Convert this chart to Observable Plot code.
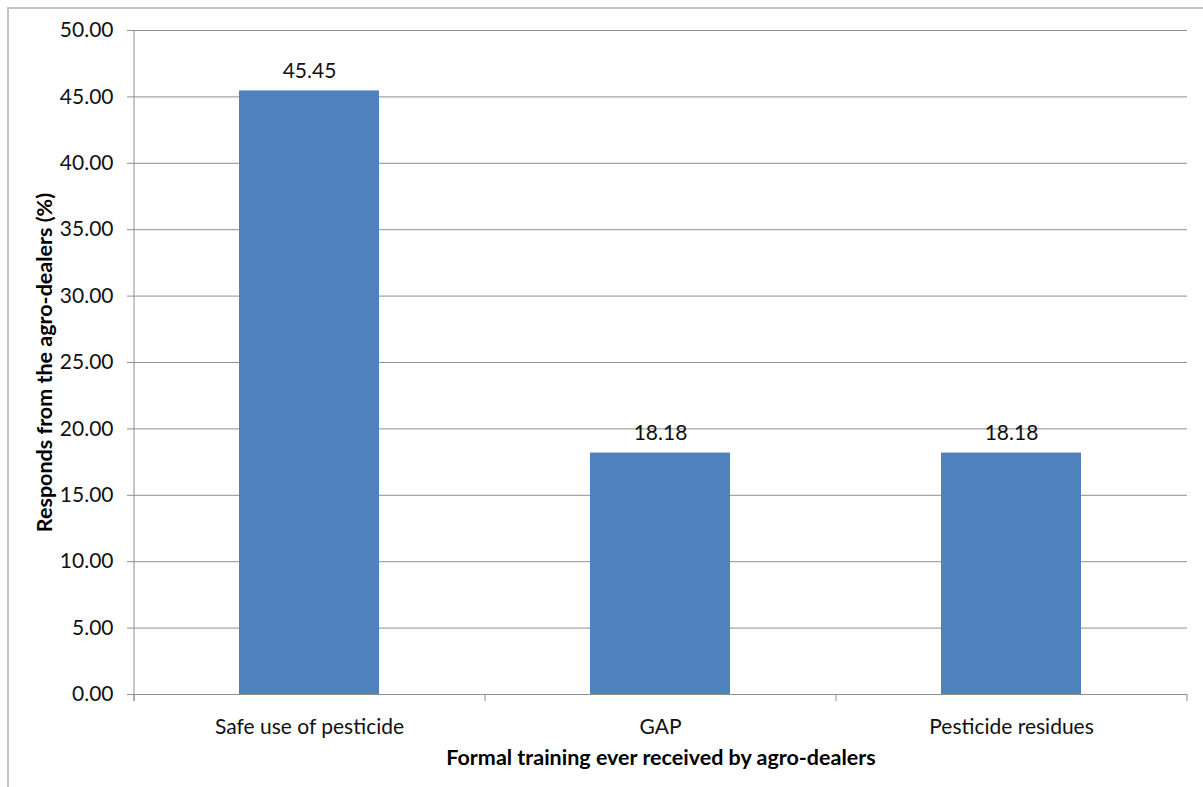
<!DOCTYPE html>
<html>
<head>
<meta charset="utf-8">
<script src="https://cdn.jsdelivr.net/npm/d3@7"></script>
<script src="https://cdn.jsdelivr.net/npm/@observablehq/plot@0.6"></script>
<style>
  html, body { margin: 0; padding: 0; background: #fff; overflow: hidden; }
  #wrap { position: relative; width: 1203px; height: 787px; }
  #frame { position: absolute; left: 7px; top: 7px; width: 1300px; height: 900px;
           border: 2px solid #c4c4c4; box-sizing: border-box; pointer-events: none; }
  #chart { position: absolute; left: 0; top: 0; }
</style>
</head>
<body>
<div id="wrap"><div id="chart"></div><div id="frame"></div></div>
<script>
// Formal training received by agro-dealers, share of responses (%)
const categories = ["Safe use of pesticide", "GAP", "Pesticide residues"];
const values = [45.45, 18.18, 18.18];
const yTicks = [0, 5, 10, 15, 20, 25, 30, 35, 40, 45, 50];
const xTitle = "Formal training ever received by agro-dealers";
const yTitle = "Responds from the agro-dealers (%)";

const data = categories.map((c, i) => ({category: c, value: values[i]}));

const W = 1203, H = 787;
const mL = 134, mR = 16, mT = 30, mB = 93;
const step = (W - mL - mR) / categories.length;
const gridColor = "#8f8f8f";

const chart = Plot.plot({
  width: W,
  height: H,
  marginLeft: mL,
  marginRight: mR,
  marginTop: mT,
  marginBottom: mB,
  style: {fontFamily: "Lato, 'Open Sans', sans-serif", fontSize: "21px", color: "#111", background: "transparent"},
  x: {type: "band", domain: categories, paddingInner: 0.6, paddingOuter: 0.3},
  y: {domain: [0, 50]},
  marks: [
    Plot.gridY(yTicks, {stroke: gridColor, strokeOpacity: 1, strokeWidth: 1}),
    Plot.barY(data, {x: "category", y: "value", fill: "#4F81BD"}),
    // axis lines
    Plot.ruleY([0], {stroke: gridColor, strokeWidth: 1}),
    Plot.ruleX([categories[0]], {dx: -step / 2, stroke: gridColor, strokeWidth: 1, insetBottom: -7}),
    // category boundary ticks below the x axis
    Plot.ruleX(categories, {dx: -step / 2, stroke: gridColor, insetTop: H - mT - mB, insetBottom: -7}),
    Plot.ruleX([categories[categories.length - 1]], {dx: step / 2, stroke: gridColor, insetTop: H - mT - mB, insetBottom: -7}),
    Plot.axisY(yTicks, {tickFormat: d3.format(".2f"), tickSize: 7, tickPadding: 14, stroke: gridColor, label: null, fill: "#111", fontSize: 21}),
    Plot.axisX({tickSize: 0, tickPadding: 25, label: null, fill: "#111", fontSize: 21}),
    // value labels
    Plot.text(data, {x: "category", y: "value", text: d => d3.format(".2f")(d.value), lineAnchor: "bottom", dy: -13, fill: "#111", fontSize: 21}),
    // axis titles
    Plot.text([xTitle], {frameAnchor: "bottom", textAnchor: "middle", lineAnchor: "middle", dy: 64, fontWeight: "bold", fill: "#000", fontSize: 21.5}),
    Plot.text([yTitle], {frameAnchor: "left", textAnchor: "middle", lineAnchor: "middle", dx: -89, rotate: -90, fontWeight: "bold", fill: "#000", fontSize: 21.5})
  ]
});

document.getElementById("chart").appendChild(chart);
</script>
</body>
</html>
